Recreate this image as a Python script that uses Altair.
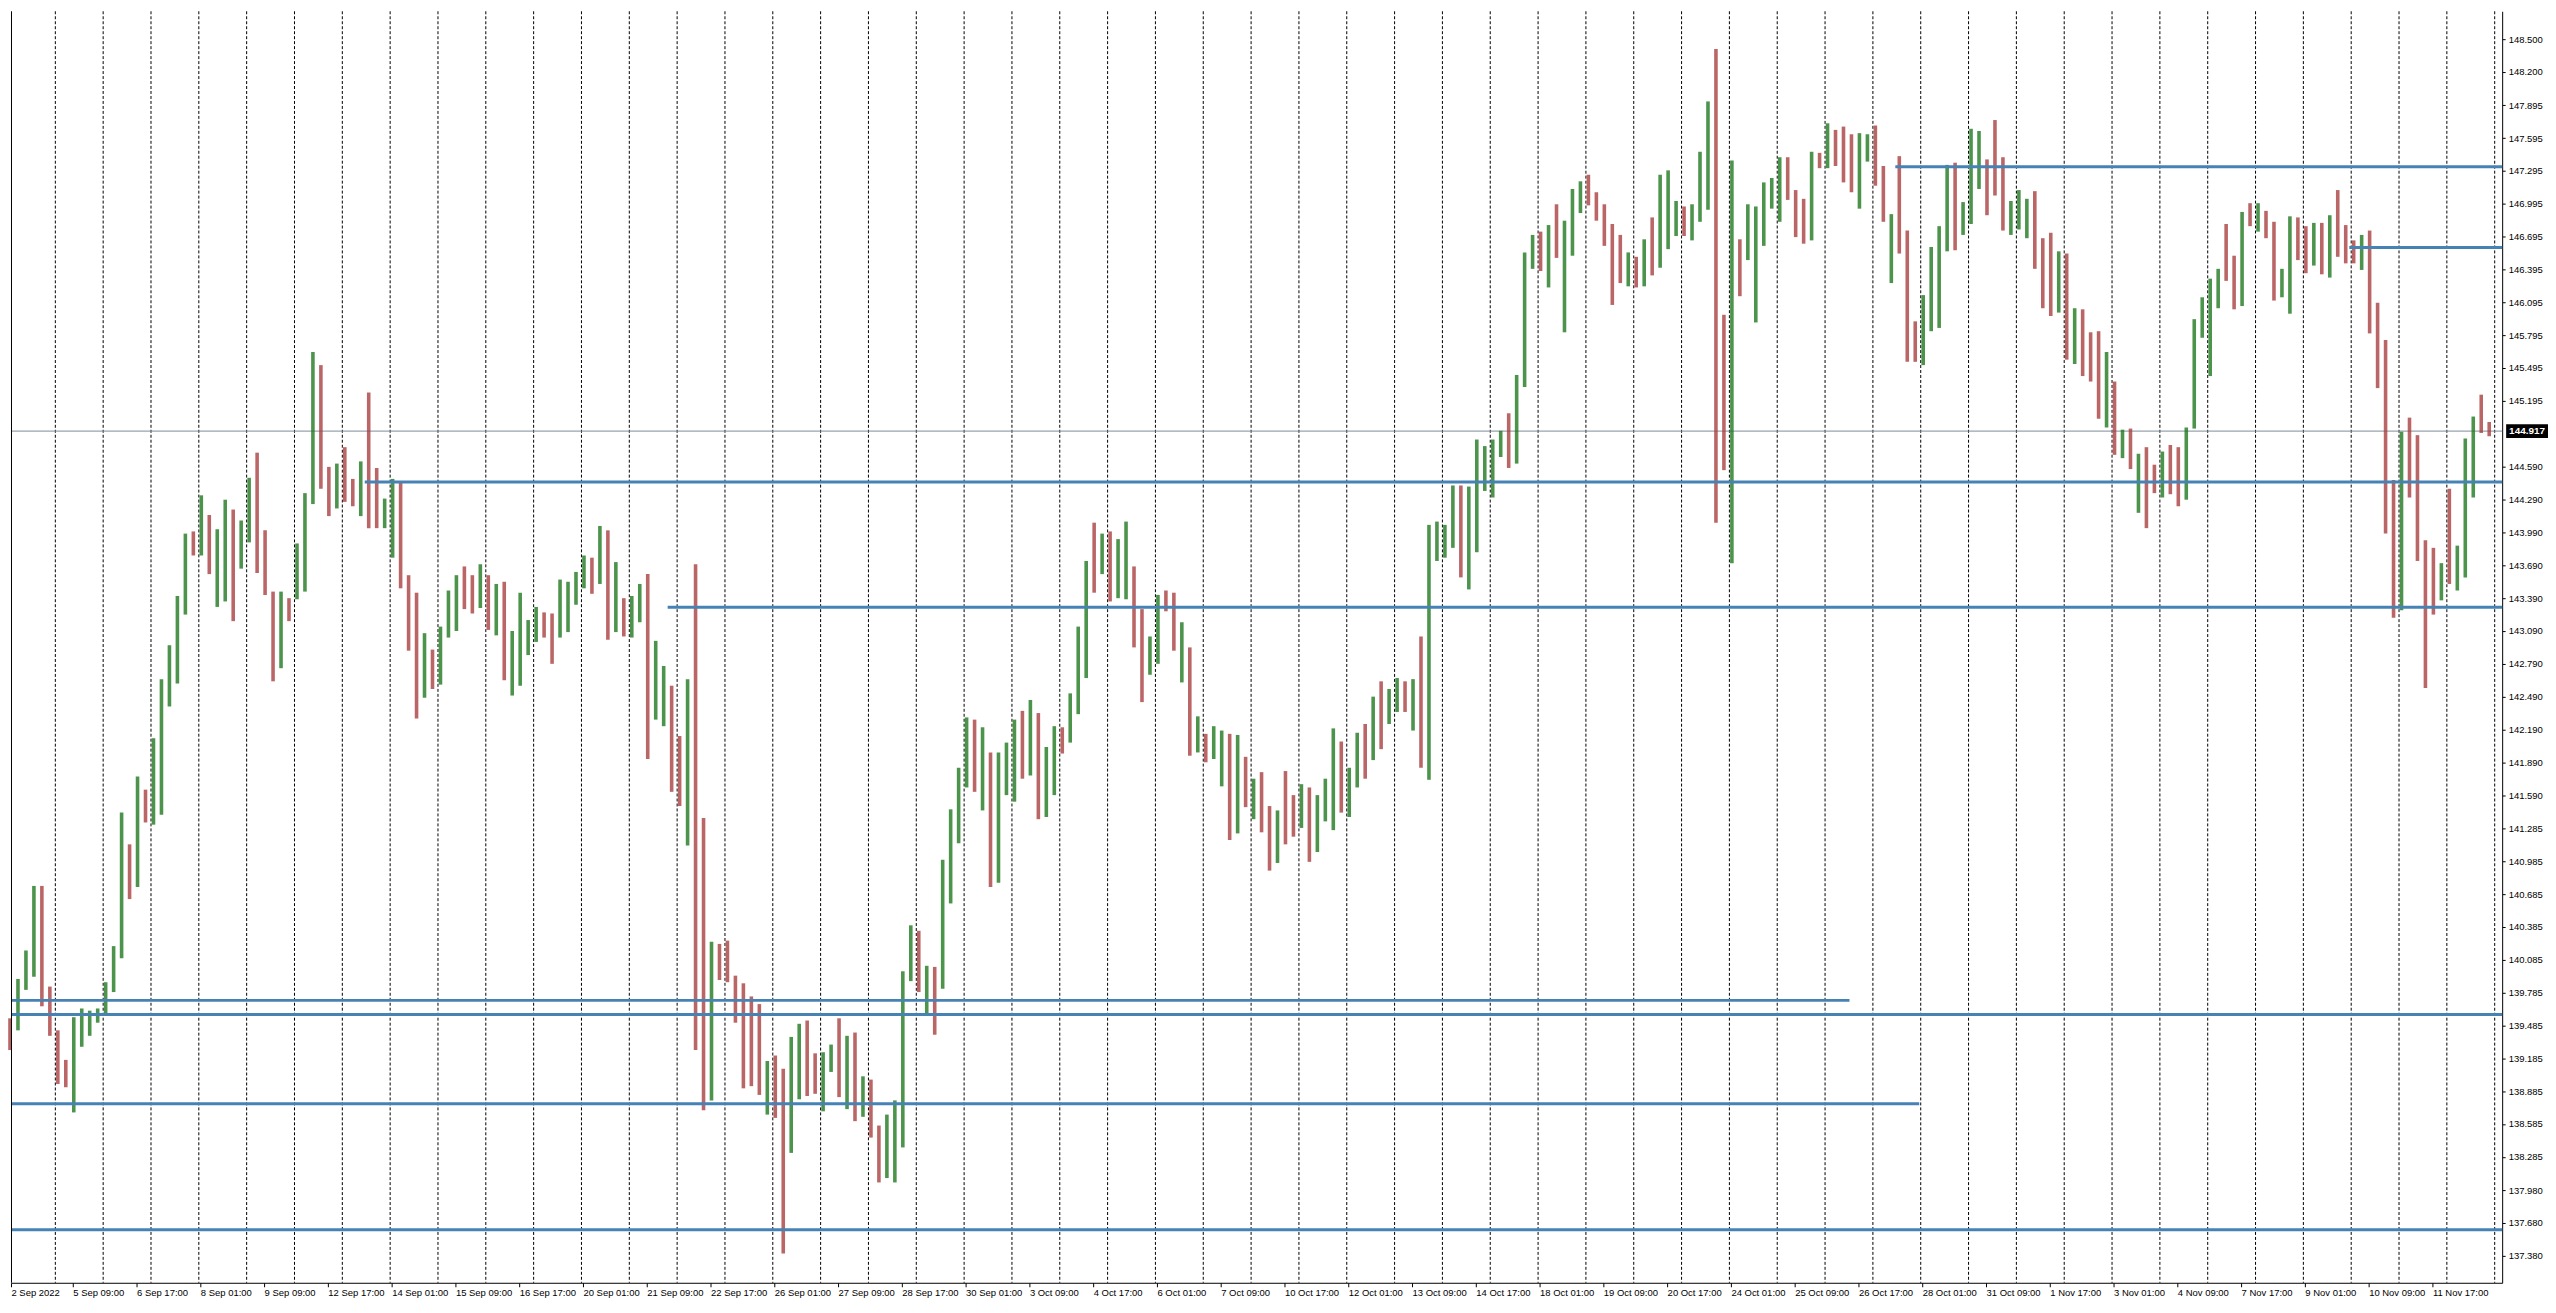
import json
import altair as alt
import pandas as pd

# ---------------- data ----------------
time_labels = ['2 Sep 2022', '5 Sep 09:00', '6 Sep 17:00', '8 Sep 01:00', '9 Sep 09:00',
               '12 Sep 17:00', '14 Sep 01:00', '15 Sep 09:00', '16 Sep 17:00', '20 Sep 01:00',
               '21 Sep 09:00', '22 Sep 17:00', '26 Sep 01:00', '27 Sep 09:00', '28 Sep 17:00',
               '30 Sep 01:00', '3 Oct 09:00', '4 Oct 17:00', '6 Oct 01:00', '7 Oct 09:00',
               '10 Oct 17:00', '12 Oct 01:00', '13 Oct 09:00', '14 Oct 17:00', '18 Oct 01:00',
               '19 Oct 09:00', '20 Oct 17:00', '24 Oct 01:00', '25 Oct 09:00', '26 Oct 17:00',
               '28 Oct 01:00', '31 Oct 09:00', '1 Nov 17:00', '3 Nov 01:00', '4 Nov 09:00',
               '7 Nov 17:00', '9 Nov 01:00', '10 Nov 09:00', '11 Nov 17:00']

price_labels = [148.500, 148.200, 147.895, 147.595, 147.295, 146.995, 146.695, 146.395,
                146.095, 145.795, 145.495, 145.195, 144.590, 144.290, 143.990, 143.690,
                143.390, 143.090, 142.790, 142.490, 142.190, 141.890, 141.590, 141.285,
                140.985, 140.685, 140.385, 140.085, 139.785, 139.485, 139.185, 138.885,
                138.585, 138.285, 137.980, 137.680, 137.380]

first_open = 139.46

highs = [
    139.55, 139.91, 140.17, 140.76, 140.76, 139.84, 139.44, 139.17, 139.56, 139.64,
    139.62, 139.64, 139.88, 140.21, 141.43, 141.14, 141.76, 141.64, 142.11, 142.65,
    142.96, 143.41, 143.98, 144.00, 144.33, 144.15, 144.02, 144.29, 144.20, 144.10,
    144.49, 144.72, 144.01, 143.45, 143.45, 143.39, 143.89, 144.35, 145.64, 145.52,
    144.59, 144.62, 144.77, 144.48, 144.64, 145.27, 144.58, 144.30, 144.48, 144.45,
    143.60, 143.44, 143.07, 142.92, 143.13, 143.46, 143.60, 143.68, 143.60, 143.70,
    143.60, 143.52, 143.54, 143.09, 143.44, 143.19, 143.31, 143.26, 143.25, 143.56,
    143.54, 143.63, 143.78, 143.76, 144.05, 144.01, 143.72, 143.39, 143.41, 143.52,
    143.61, 143.00, 142.77, 142.59, 142.13, 142.65, 143.70, 141.38, 140.25, 140.23,
    140.26, 139.94, 139.87, 139.75, 139.68, 139.16, 139.21, 139.09, 139.38, 139.50,
    139.53, 139.23, 139.24, 139.31, 139.55, 139.39, 139.42, 139.02, 138.99, 138.57,
    138.67, 138.80, 139.98, 140.40, 140.35, 140.03, 140.02, 141.00, 141.46, 141.84,
    142.30, 142.28, 142.21, 141.98, 141.98, 142.07, 142.28, 142.36, 142.46, 142.34,
    142.03, 142.22, 142.21, 142.52, 143.13, 143.73, 144.08, 143.98, 144.00, 143.93,
    144.09, 143.68, 143.29, 143.04, 143.42, 143.46, 143.44, 143.17, 142.94, 142.31,
    142.15, 142.22, 142.18, 142.15, 142.14, 141.94, 141.74, 141.80, 141.49, 141.45,
    141.81, 141.59, 141.69, 141.66, 141.59, 141.74, 142.20, 142.08, 141.84, 142.16,
    142.24, 142.49, 142.63, 142.56, 142.66, 142.63, 142.65, 143.04, 144.06, 144.09,
    144.06, 144.42, 144.42, 144.41, 144.84, 144.78, 144.84, 144.92, 145.08, 145.43,
    146.55, 146.71, 146.74, 146.80, 146.99, 146.84, 147.13, 147.20, 147.26, 147.10,
    146.99, 146.81, 146.71, 146.55, 146.51, 146.67, 146.87, 147.26, 147.30, 147.02,
    146.97, 146.99, 147.47, 147.93, 148.41, 145.98, 147.39, 146.67, 146.99, 146.97,
    147.19, 147.23, 147.42, 147.42, 147.12, 147.04, 147.47, 147.46, 147.73, 147.67,
    147.70, 147.63, 147.64, 147.63, 147.71, 147.34, 146.90, 147.43, 146.75, 145.92,
    146.16, 146.60, 146.79, 147.35, 147.37, 147.01, 147.68, 147.66, 147.40, 147.76,
    147.42, 147.02, 147.12, 147.04, 147.11, 146.68, 146.73, 146.56, 146.54, 146.04,
    146.03, 145.82, 145.83, 145.64, 145.37, 144.93, 144.94, 144.71, 144.77, 144.61,
    144.73, 144.79, 144.77, 144.95, 145.94, 146.14, 146.31, 146.40, 146.81, 146.52,
    146.92, 147.00, 147.00, 146.93, 146.83, 146.40, 146.88, 146.87, 146.79, 146.82,
    146.82, 146.89, 147.12, 146.80, 146.66, 146.71, 146.75, 146.09, 145.75, 144.47,
    144.91, 145.04, 144.88, 143.92, 143.85, 143.71, 144.39, 143.87, 144.85, 145.05,
    145.25, 145.00]

lows = [
    139.26, 139.44, 139.81, 139.93, 139.66, 139.39, 138.95, 138.92, 138.69, 139.29,
    139.39, 139.51, 139.59, 139.79, 140.10, 140.64, 140.75, 141.34, 141.32, 141.41,
    142.40, 142.61, 143.24, 143.78, 143.78, 143.61, 143.31, 143.36, 143.18, 143.66,
    143.90, 143.62, 143.42, 142.63, 142.75, 143.18, 143.38, 143.45, 144.25, 144.39,
    144.14, 144.21, 144.27, 144.23, 144.14, 144.03, 144.03, 144.03, 143.76, 143.48,
    142.91, 142.29, 142.48, 142.56, 142.60, 143.03, 143.09, 143.29, 143.25, 143.30,
    143.10, 143.05, 142.64, 142.50, 142.59, 142.87, 142.99, 143.03, 142.79, 143.03,
    143.08, 143.33, 143.48, 143.43, 143.52, 143.01, 143.08, 143.04, 143.03, 143.17,
    141.92, 142.28, 142.22, 141.62, 141.49, 141.13, 139.26, 138.71, 138.80, 139.90,
    139.88, 139.51, 138.91, 138.93, 138.85, 138.67, 138.64, 137.40, 138.32, 138.81,
    138.84, 138.86, 138.70, 139.06, 138.83, 138.72, 138.61, 138.65, 138.46, 138.05,
    138.09, 138.05, 138.37, 139.89, 139.79, 139.59, 139.40, 139.82, 140.60, 141.15,
    141.66, 141.62, 141.45, 140.75, 140.79, 141.59, 141.53, 141.74, 141.77, 141.37,
    141.39, 141.59, 141.97, 142.07, 142.33, 142.66, 143.44, 143.61, 143.36, 143.39,
    143.38, 142.94, 142.44, 142.69, 142.79, 143.27, 142.91, 142.62, 141.95, 141.98,
    141.89, 141.92, 141.67, 141.18, 141.24, 141.48, 141.37, 141.25, 140.90, 140.97,
    141.14, 141.21, 141.29, 140.98, 141.07, 141.35, 141.27, 141.43, 141.39, 141.66,
    141.74, 141.91, 142.01, 142.24, 142.35, 142.35, 142.18, 141.84, 141.73, 143.73,
    143.76, 143.85, 143.58, 143.47, 143.81, 144.37, 144.31, 144.68, 144.58, 144.62,
    145.32, 146.40, 146.38, 146.23, 146.50, 145.82, 146.52, 146.91, 146.98, 146.84,
    146.61, 146.07, 146.27, 146.24, 146.23, 146.24, 146.34, 146.41, 146.58, 146.70,
    146.70, 146.66, 146.83, 146.94, 144.08, 144.56, 143.71, 146.15, 146.48, 145.91,
    146.61, 146.95, 146.83, 147.03, 146.69, 146.63, 146.66, 147.32, 147.32, 147.34,
    147.19, 147.10, 146.95, 147.38, 147.16, 146.83, 146.27, 146.54, 145.55, 145.55,
    145.52, 145.83, 145.86, 146.56, 146.57, 146.71, 146.81, 147.13, 146.89, 147.07,
    146.75, 146.71, 146.76, 146.68, 146.40, 146.04, 145.97, 146.00, 145.57, 145.53,
    145.42, 145.37, 145.03, 144.95, 144.70, 144.67, 144.57, 144.17, 144.03, 144.35,
    144.31, 144.34, 144.23, 144.29, 144.94, 145.77, 145.42, 146.04, 146.29, 146.03,
    146.06, 146.79, 146.74, 146.68, 146.11, 146.14, 145.99, 146.48, 146.36, 146.43,
    146.35, 146.32, 146.51, 146.45, 146.45, 146.39, 145.81, 145.31, 143.98, 143.21,
    143.28, 144.31, 143.73, 142.57, 143.24, 143.37, 143.52, 143.46, 143.58, 144.31,
    144.90, 144.87]

closes = [
    139.44, 139.88, 140.01, 140.72, 139.76, 139.64, 139.17, 139.02, 139.27, 139.49,
    139.56, 139.61, 139.86, 140.16, 140.85, 140.75, 141.59, 141.39, 141.56, 142.60,
    142.82, 143.36, 143.93, 143.83, 144.15, 143.81, 143.91, 144.20, 143.66, 144.06,
    144.40, 143.71, 143.45, 142.91, 143.35, 143.21, 143.88, 144.33, 145.52, 144.42,
    144.29, 144.61, 144.30, 144.29, 144.62, 144.18, 144.05, 144.21, 144.45, 143.51,
    143.41, 142.48, 142.86, 142.60, 143.04, 143.15, 143.48, 143.47, 143.40, 143.55,
    143.20, 143.45, 142.66, 142.78, 142.99, 143.18, 143.18, 143.04, 143.03, 143.23,
    143.44, 143.62, 143.76, 143.69, 143.76, 143.08, 143.30, 143.21, 143.28, 143.51,
    142.28, 142.59, 142.59, 141.82, 141.53, 142.17, 139.55, 138.80, 140.23, 139.97,
    139.91, 139.77, 139.37, 139.22, 138.95, 138.97, 138.91, 138.69, 139.34, 139.48,
    139.12, 139.09, 139.23, 139.30, 138.88, 139.39, 138.65, 138.85, 138.53, 138.11,
    138.27, 138.70, 139.96, 140.35, 139.83, 140.02, 139.82, 140.75, 141.15, 141.82,
    142.28, 141.66, 141.98, 141.50, 141.67, 141.82, 142.25, 141.77, 142.21, 141.39,
    141.81, 142.21, 142.19, 142.33, 142.97, 143.71, 143.70, 143.83, 143.39, 143.59,
    143.67, 143.29, 142.69, 143.03, 143.41, 143.39, 142.94, 142.94, 141.98, 142.03,
    141.92, 142.02, 142.15, 141.24, 141.86, 141.63, 141.72, 141.29, 141.21, 141.42,
    141.38, 141.31, 141.42, 141.24, 141.57, 141.61, 141.95, 141.50, 141.82, 142.14,
    141.91, 142.46, 142.29, 142.42, 142.63, 142.37, 142.63, 141.95, 143.73, 143.92,
    144.05, 144.26, 143.62, 144.36, 144.53, 144.66, 144.82, 144.88, 144.62, 145.42,
    146.53, 146.58, 146.40, 146.78, 146.59, 146.83, 147.03, 147.19, 147.00, 146.91,
    146.64, 146.45, 146.29, 146.51, 146.40, 146.65, 146.50, 146.83, 146.94, 146.97,
    146.72, 146.95, 147.20, 147.89, 145.98, 145.10, 146.67, 146.66, 146.66, 146.79,
    147.04, 147.22, 147.40, 147.04, 147.01, 146.66, 147.45, 147.34, 147.61, 147.48,
    147.31, 147.13, 147.39, 147.61, 147.19, 146.85, 146.88, 146.58, 145.87, 145.58,
    146.14, 146.15, 146.78, 147.34, 146.81, 146.99, 147.13, 147.38, 147.14, 147.11,
    146.76, 146.86, 146.94, 147.02, 146.43, 146.15, 146.00, 146.47, 145.59, 146.03,
    145.81, 145.78, 145.08, 145.35, 144.73, 144.86, 144.59, 144.67, 144.56, 144.36,
    144.72, 144.68, 144.29, 144.94, 145.93, 146.00, 146.30, 146.39, 146.37, 146.06,
    146.91, 146.82, 146.89, 146.69, 146.14, 146.38, 146.87, 146.76, 146.66, 146.82,
    146.65, 146.88, 146.68, 146.66, 146.63, 146.70, 145.83, 145.34, 144.06, 143.28,
    144.89, 144.81, 143.77, 143.54, 143.44, 143.71, 143.54, 143.86, 144.83, 145.04,
    144.98, 144.917]

# horizontal support / resistance lines (price, start bar, end bar; None = chart edge)
level_prices = [147.334, 146.594, 144.452, 143.306, 139.714, 139.586, 138.769, 137.617]
level_from = [947.5, 1175.3, 179.5, 331.5, None, None, None, None]
level_to = [None, None, None, None, 924.5, None, 959.5, None]

current_price = 144.917

# ---------------- layout / style ----------------
W, H = 2500, 1276
X_DOMAIN = [2, 1252]          # hourly bar index
Y_DOMAIN = [137.133, 148.754]
BARS_PER_CANDLE = 4
GRID_EVERY = 24
LABEL_EVERY = 32
GREEN = '#1a741a'
RED = '#a83b3b'
BLUE = '#4682B4'
FONT = 'Liberation Sans'
FS = 9.5

opens = [first_open] + closes[:-1]
n = len(closes)
candles = pd.DataFrame({'j': list(range(n)), 'open': opens, 'high': highs,
                        'low': lows, 'close': closes})
candles['mid'] = candles['j'] * BARS_PER_CANDLE + 1.5
candles['x0'] = candles['mid'] - 0.9
candles['x1'] = candles['mid'] + 0.9
candles['dir'] = ['up' if c >= o else 'down' for o, c in zip(opens, closes)]

grid_df = pd.DataFrame({'g': [GRID_EVERY * k + 0.25 for k in range(1, 53)]})

lv = pd.DataFrame({
    'price': level_prices,
    'x_from': [X_DOMAIN[0] if v is None else v for v in level_from],
    'x_to': [X_DOMAIN[1] if v is None else v for v in level_to],
})

label_pos = [X_DOMAIN[0]] + [1 + LABEL_EVERY * k for k in range(1, len(time_labels))]
label_expr = f"{json.dumps(time_labels)}[round((datum.value - 1) / {LABEL_EVERY})]"

xs = alt.Scale(domain=X_DOMAIN, nice=False, zero=False)
ys = alt.Scale(domain=Y_DOMAIN, nice=False, zero=False)

x_axis = alt.Axis(values=label_pos, labelExpr=label_expr, orient='bottom', grid=False,
                  tickSize=4, tickColor='black', domainColor='black', labelColor='black',
                  labelFont=FONT, labelFontSize=FS, labelAlign='left', labelBaseline='top',
                  labelPadding=1, labelFlush=False, labelOverlap=False, title=None)
y_axis = alt.Axis(values=price_labels, format='.3f', orient='right', grid=False,
                  tickSize=3, tickColor='black', domainColor='black', labelColor='black',
                  labelFont=FONT, labelFontSize=FS, labelPadding=3, labelOverlap=False,
                  labelFlush=False, title=None)


def X(field):
    return alt.X(field, scale=xs, axis=x_axis, title=None)


def Y(field):
    return alt.Y(field, scale=ys, axis=y_axis, title=None)


grid = alt.Chart(grid_df).mark_rule(color='black', strokeWidth=1, strokeDash=[3, 2]).encode(
    x=X('g:Q'), y=alt.value(0), y2=alt.value(H))

price_line = alt.Chart(pd.DataFrame({'p': [current_price]})).mark_rule(
    color='#7f8c99', strokeWidth=1).encode(
    y=Y('p:Q'), x=alt.value(0), x2=alt.value(W))

candle_layer = alt.Chart(candles).mark_rect(opacity=0.78).encode(
    x=X('x0:Q'), x2='x1:Q',
    y=Y('low:Q'), y2='high:Q',
    color=alt.Color('dir:N', scale=alt.Scale(domain=['up', 'down'], range=[GREEN, RED]),
                    legend=None))

levels = alt.Chart(lv).mark_rule(color=BLUE, strokeWidth=3).encode(
    x=X('x_from:Q'), x2='x_to:Q', y=Y('price:Q'))

left_border = alt.Chart(pd.DataFrame({'a': [0]})).mark_rule(color='black', strokeWidth=1).encode(
    x=alt.value(0.5), y=alt.value(0), y2=alt.value(H))

tag_df = pd.DataFrame({'p': [current_price], 't': [f'{current_price:.3f}']})
tag_box = alt.Chart(tag_df).mark_point(
    shape='M-1,-0.33L1,-0.33L1,0.33L-1,0.33Z', filled=True, color='black', opacity=1,
    size=1764, strokeWidth=0).encode(
    x=alt.value(W + 25), y=Y('p:Q'))
tag_text = alt.Chart(tag_df).mark_text(
    color='white', font=FONT, fontSize=FS + 0.5, fontWeight='bold', align='center',
    baseline='middle').encode(
    x=alt.value(W + 25), y=Y('p:Q'), text='t:N')

chart = alt.layer(grid, price_line, candle_layer, levels, left_border, tag_box, tag_text).properties(
    width=W, height=H, padding=0, background='white'
).configure_view(stroke=None)

chart.save("out.html", embed_options={"renderer": "svg", "actions": False})
